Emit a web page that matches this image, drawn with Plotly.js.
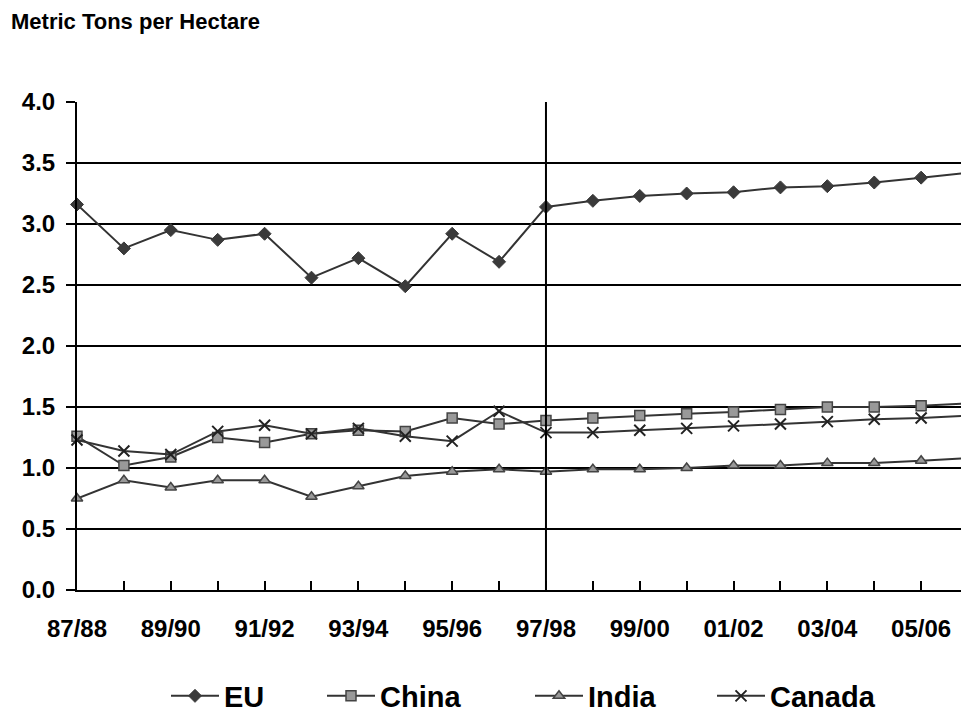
<!DOCTYPE html>
<html>
<head>
<meta charset="utf-8">
<script src="https://cdn.plot.ly/plotly-3.0.1.min.js"></script>
<style>
  html, body { margin: 0; padding: 0; background: #fff; }
  #chart { width: 961px; height: 713px; }
</style>
</head>
<body>
<div id="chart"></div>
<script>
const seasons = ["87/88","88/89","89/90","90/91","91/92","92/93","93/94","94/95","95/96","96/97",
                 "97/98","98/99","99/00","00/01","01/02","02/03","03/04","04/05","05/06","06/07"];
const tickLabels = ["87/88","","89/90","","91/92","","93/94","","95/96","",
                    "97/98","","99/00","","01/02","","03/04","","05/06",""];
const euYield     = [3.16,2.80,2.95,2.87,2.92,2.56,2.72,2.49,2.92,2.69,3.14,3.19,3.23,3.25,3.26,3.30,3.31,3.34,3.38,3.42];
const chinaYield  = [1.26,1.02,1.09,1.25,1.21,1.28,1.31,1.30,1.41,1.36,1.39,1.41,1.43,1.445,1.46,1.48,1.50,1.50,1.51,1.53];
const indiaYield  = [0.75,0.90,0.84,0.90,0.90,0.765,0.85,0.935,0.97,0.99,0.97,0.99,0.99,1.00,1.02,1.02,1.04,1.04,1.06,1.08];
const canadaYield = [1.23,1.14,1.11,1.30,1.35,1.28,1.325,1.26,1.22,1.465,1.29,1.29,1.31,1.325,1.345,1.36,1.38,1.40,1.41,1.43];
const dividerSeason = "97/98";

const FONT = "Liberation Sans, Arial, sans-serif";
const lineCol = "#333333";

function tr(name, y, marker, legendId) {
  return {
    type: "scatter", mode: "lines+markers", name: name,
    x: seasons, y: y, cliponaxis: false, legend: legendId,
    line: { color: lineCol, width: 2 },
    marker: marker
  };
}

const data = [
  tr("EU", euYield, { symbol: "diamond", size: 10, color: "#3a3a3a", line: { color: "#3a3a3a", width: 1 } }, "legend"),
  tr("China", chinaYield, { symbol: "square", size: 10, color: "#999999", line: { color: "#444444", width: 1.5 } }, "legend2"),
  tr("India", indiaYield, { symbol: "triangle-up", size: 10, color: "#999999", line: { color: "#444444", width: 1.5 } }, "legend3"),
  tr("Canada", canadaYield, { symbol: "x-thin", size: 11, color: "#222222", line: { color: "#222222", width: 2 } }, "legend4")
];

function leg(symStart) {
  return {
    orientation: "h",
    xref: "container", x: (symStart - 10) / 961, xanchor: "left",
    yref: "container", y: 17 / 713, yanchor: "middle",
    font: { family: FONT, size: 29, weight: "bold", color: "#000" },
    itemwidth: 48,
    bgcolor: "rgba(0,0,0,0)", borderwidth: 0
  };
}

const layout = {
  width: 961, height: 713,
  paper_bgcolor: "#ffffff", plot_bgcolor: "#ffffff",
  margin: { l: 77, r: 0, t: 102, b: 123, pad: 0 },
  font: { family: FONT, color: "#000000" },
  title: {
    text: "Metric Tons per Hectare",
    font: { family: FONT, size: 22, weight: "bold", color: "#000" },
    xref: "container", x: 11 / 961, xanchor: "left",
    yref: "container", y: 1 - 21 / 713, yanchor: "middle"
  },
  xaxis: {
    type: "category",
    range: [0, 18.85],
    tickmode: "array", tickvals: seasons, ticktext: tickLabels,
    ticks: "inside", ticklen: 9, tickwidth: 2, tickcolor: "#000",
    showline: true, linecolor: "#000", linewidth: 2,
    showgrid: false, zeroline: false,
    tickfont: { family: FONT, size: 24, weight: "bold", color: "#000" },
    ticklabelstandoff: 16,
    fixedrange: true
  },
  yaxis: {
    range: [0, 4], dtick: 0.5, tickformat: ".1f",
    ticks: "outside", ticklen: 9, tickwidth: 2, tickcolor: "#000",
    showline: true, linecolor: "#000", linewidth: 2,
    showgrid: true, gridcolor: "#000", gridwidth: 2,
    zeroline: false,
    tickfont: { family: FONT, size: 24, weight: "bold", color: "#000" },
    ticklabelstandoff: 6,
    fixedrange: true
  },
  shapes: [{
    type: "line", xref: "x", yref: "y",
    x0: dividerSeason, x1: dividerSeason, y0: 0, y1: 4,
    line: { color: "#000", width: 2 }
  }],
  showlegend: true,
  legend: leg(176),
  legend2: leg(332),
  legend3: leg(540),
  legend4: leg(722)
};

Plotly.newPlot("chart", data, layout, { staticPlot: true, displayModeBar: false });
</script>
</body>
</html>
